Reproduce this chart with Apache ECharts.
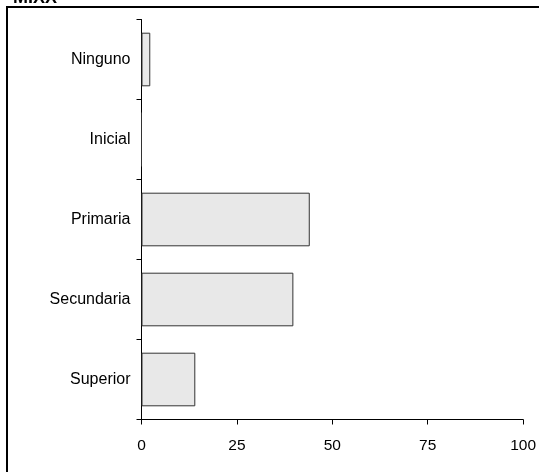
<!DOCTYPE html>
<html><head><meta charset="utf-8">
<script src="https://cdn.jsdelivr.net/npm/echarts@6/dist/echarts.min.js"></script>
<style>html,body{margin:0;padding:0;background:#fff}#c{width:539px;height:472px}</style>
</head><body><div id="c"></div>
<script>
const categories = ['Ninguno', 'Inicial', 'Primaria', 'Secundaria', 'Superior'];
const values = [2.3, 0, 44.1, 39.8, 14.1];
const xTicks = [0, 25, 50, 75, 100];
const titleText = 'MIXX';

const chart = echarts.init(document.getElementById('c'), null, {renderer: 'canvas'});
chart.setOption({
  animation: false,
  backgroundColor: '#fff',
  grid: {left: 141.5, right: 15, top: 19.5, bottom: 52.5, containLabel: false},
  xAxis: {
    type: 'value', min: xTicks[0], max: xTicks[xTicks.length - 1], interval: 25,
    axisLine: {show: true, lineStyle: {color: '#000', width: 1}},
    axisTick: {show: true, length: 5, lineStyle: {color: '#000'}},
    axisLabel: {color: '#000', fontSize: 15.5, fontFamily: 'Liberation Sans, Arial', margin: 18},
    splitLine: {show: false}
  },
  yAxis: {
    type: 'category', data: categories, inverse: true,
    axisLine: {show: true, lineStyle: {color: '#000', width: 1}},
    axisTick: {show: true, length: 5, lineStyle: {color: '#000'}},
    axisLabel: {color: '#000', fontSize: 16, fontFamily: 'Liberation Sans, Arial', margin: 11}
  },
  series: [{
    type: 'bar', data: values, barCategoryGap: '33%',
    itemStyle: {color: '#e8e8e8', borderColor: '#333', borderWidth: 1}
  }],
  graphic: [
    {type: 'rect', shape: {x: 7, y: 7, width: 700, height: 700}, style: {fill: 'none', stroke: '#000', lineWidth: 2}, silent: true},
    {type: 'text', x: 13, y: 7, style: {text: titleText, font: 'bold 18px "Liberation Sans", Arial', fill: '#000', verticalAlign: 'bottom'}}
  ]
});
</script></body></html>
